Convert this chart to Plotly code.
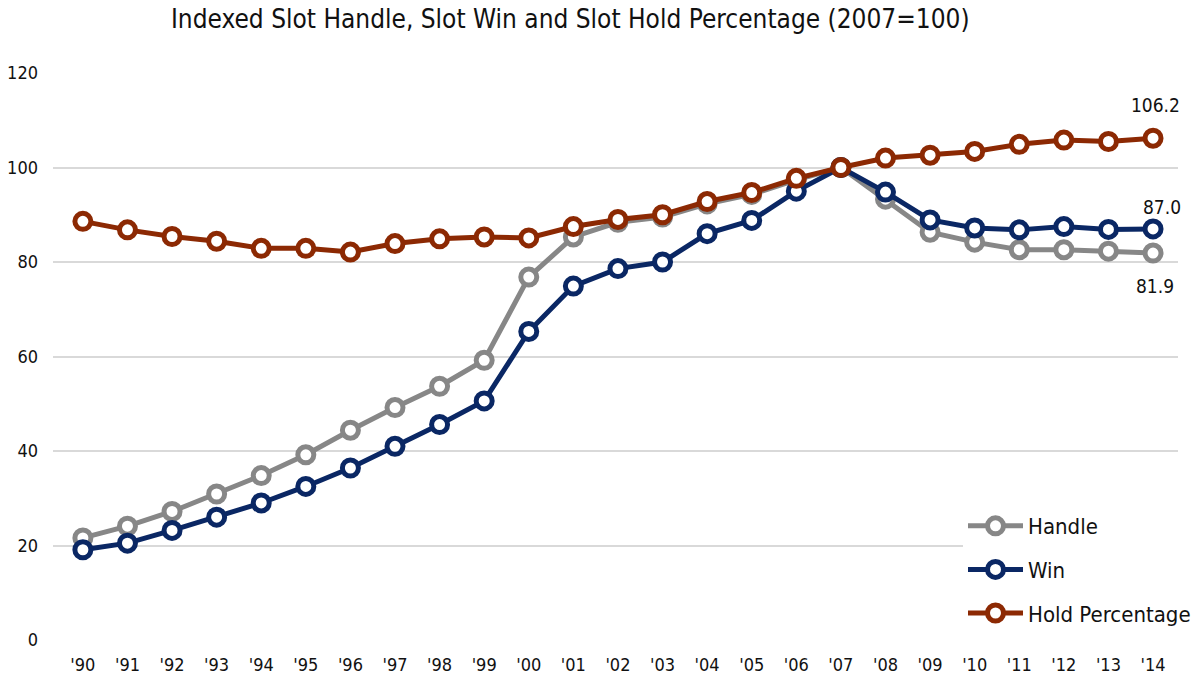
import plotly.graph_objects as go

years = ["'90", "'91", "'92", "'93", "'94", "'95", "'96", "'97", "'98", "'99",
         "'00", "'01", "'02", "'03", "'04", "'05", "'06", "'07", "'08", "'09",
         "'10", "'11", "'12", "'13", "'14"]

handle = [21.6, 24.1, 27.2, 30.9, 34.8, 39.2, 44.4, 49.2, 53.7, 59.2,
          76.8, 85.3, 88.4, 89.5, 92.3, 94.3, 97.4, 100.0, 93.3, 86.3,
          84.2, 82.6, 82.6, 82.3, 81.9]
win = [19.1, 20.5, 23.2, 26.0, 29.0, 32.5, 36.4, 41.0, 45.6, 50.6,
       65.3, 74.9, 78.6, 80.0, 86.0, 88.8, 95.0, 100.0, 94.8, 88.9,
       87.2, 86.8, 87.5, 86.9, 87.0]
hold = [88.6, 86.8, 85.4, 84.4, 82.9, 82.9, 82.1, 83.9, 84.9, 85.3,
        85.1, 87.5, 89.0, 90.0, 92.8, 94.7, 97.7, 100.0, 102.0, 102.6,
        103.4, 104.9, 105.8, 105.5, 106.2]

y_ticks = [0, 20, 40, 60, 80, 100, 120]

FONT = "Liberation Sans Narrow, Arial Narrow, DejaVu Sans Condensed, sans-serif"
xs = list(range(len(years)))

series = [
    ("Handle", handle, "#878787"),
    ("Win", win, "#0a2764"),
    ("Hold Percentage", hold, "#8c2903"),
]

fig = go.Figure()
for name, vals, col in series:
    fig.add_trace(go.Scatter(
        x=xs, y=vals, name=name, mode="lines+markers",
        legendgroup=name,
        line=dict(color=col, width=5),
        marker=dict(symbol="circle", size=16, color="white",
                    line=dict(color=col, width=5)),
    ))

# end-point labels
fig.add_annotation(x=xs[-1], y=hold[-1], text=f"{hold[-1]:.1f}", showarrow=False,
                   yshift=33, xshift=2, font=dict(size=19, color="#111111", family=FONT))
fig.add_annotation(x=xs[-1], y=win[-1], text=f"{win[-1]:.1f}", showarrow=False,
                   yshift=22, xshift=9, font=dict(size=19, color="#111111", family=FONT))
fig.add_annotation(x=xs[-1], y=handle[-1], text=f"{handle[-1]:.1f}", showarrow=False,
                   yshift=-33, xshift=2, font=dict(size=19, color="#111111", family=FONT))

fig.update_layout(
    width=1193, height=683,
    margin=dict(l=53, r=15, t=73, b=43, autoexpand=False),
    paper_bgcolor="white", plot_bgcolor="white",
    font=dict(family=FONT, color="#111111", size=18),
    title=dict(text="Indexed Slot Handle, Slot Win and Slot Hold Percentage (2007=100)",
               x=0.478, xanchor="center", xref="container",
               y=0.972, yanchor="middle",
               font=dict(size=26, family=FONT, color="#111111")),
    showlegend=True,
    legend=dict(xref="container", yref="container",
                x=963 / 1193, y=1 - 505 / 683, xanchor="left", yanchor="top",
                bgcolor="white", font=dict(size=22, family=FONT, color="#111111"),
                traceorder="grouped", tracegroupgap=12, itemwidth=55),
)
fig.update_xaxes(
    range=[-0.67, 24.56], tickvals=xs, ticktext=years,
    showgrid=False, zeroline=False, showline=False, ticks="",
    tickfont=dict(size=18), ticklabelstandoff=12, fixedrange=True, automargin=False,
)
fig.update_yaxes(
    range=[0, 120], tickvals=y_ticks, showgrid=True, gridcolor="#d9d9d9", gridwidth=1.5,
    zeroline=False, showline=False, ticks="", tickfont=dict(size=18),
    ticklabelstandoff=14, fixedrange=True, automargin=False,
)

fig.write_html("out.html", config={"displayModeBar": False})

# remove default page margin so the figure sits at the window origin
with open("out.html", "r", encoding="utf-8") as f:
    html = f.read()
html = html.replace("<head>", "<head><style>html,body{margin:0;padding:0;overflow:hidden;}</style>", 1)
with open("out.html", "w", encoding="utf-8") as f:
    f.write(html)
